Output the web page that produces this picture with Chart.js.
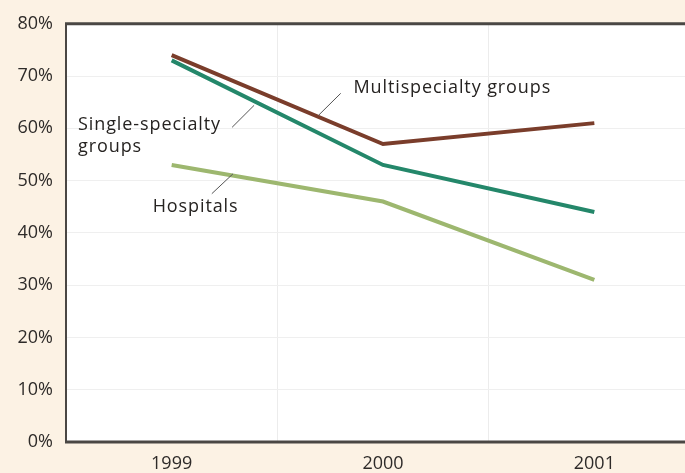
<!DOCTYPE html>
<html><head><meta charset="utf-8">
<script src="https://cdn.jsdelivr.net/npm/chart.js@4"></script>
<style>
html,body{margin:0;padding:0;background:#fcf2e4;overflow:hidden;}
#wrap{width:700px;height:473px;position:relative;}
</style></head>
<body><div id="wrap"><canvas id="c"></canvas></div>
<script>
const years = ['1999','2000','2001'];
const multispecialty = [74, 57, 61];
const singleSpecialty = [73, 53, 44];
const hospitals = [53, 46, 31];
const yTicks = [0,10,20,30,40,50,60,70,80];

const FONT = '"Open Sans", sans-serif';
// annotations in data space: x = category index, y = percent
const notes = [
  {lines:['Multispecialty groups'], x:0.86, y:67.8, from:[0.695,62.5], to:[0.80,66.7]},
  {lines:['Single-specialty','groups'], x:-0.443, y:60.6, from:[0.286,60.2], to:[0.39,64.4]},
  {lines:['Hospitals'], x:-0.09, y:45.0, from:[0.19,47.5], to:[0.29,51.3]}
];

const deco = {
  id:'deco',
  beforeDraw(chart){
    const {ctx, chartArea:a} = chart;
    ctx.save();
    ctx.fillStyle = '#ffffff';
    ctx.fillRect(a.left, a.top, a.right-a.left, a.bottom-a.top);
    ctx.restore();
  },
  afterDraw(chart){
    const {ctx, chartArea:a, scales} = chart;
    const xs = scales.x, ys = scales.y;
    ctx.save();
    ctx.strokeStyle = '#4a4744';
    ctx.lineWidth = 3;
    ctx.beginPath(); ctx.moveTo(a.left-1, a.top); ctx.lineTo(a.right+2, a.top); ctx.stroke();
    ctx.beginPath(); ctx.moveTo(a.left-1, a.bottom); ctx.lineTo(a.right+2, a.bottom); ctx.stroke();
    ctx.lineWidth = 2;
    ctx.beginPath(); ctx.moveTo(a.left, a.top); ctx.lineTo(a.left, a.bottom); ctx.stroke();
    ctx.fillStyle = '#262321';
    ctx.font = '18px ' + FONT;
    try { ctx.letterSpacing = '0.9px'; } catch(e) {}
    ctx.textBaseline = 'middle';
    ctx.textAlign = 'left';
    notes.forEach(n=>{
      const px = xs.getPixelForValue(n.x), py = ys.getPixelForValue(n.y);
      n.lines.forEach((l,i)=>ctx.fillText(l, px, py + i*22));
      ctx.strokeStyle = '#555';
      ctx.lineWidth = 1;
      ctx.beginPath();
      ctx.moveTo(xs.getPixelForValue(n.from[0]), ys.getPixelForValue(n.from[1]));
      ctx.lineTo(xs.getPixelForValue(n.to[0]), ys.getPixelForValue(n.to[1]));
      ctx.stroke();
    });
    ctx.restore();
  }
};

new Chart(document.getElementById('c'), {
  type:'line',
  data:{
    labels: years,
    datasets:[
      {label:'Multispecialty groups', data:multispecialty, borderColor:'#7a3d2b'},
      {label:'Single-specialty groups', data:singleSpecialty, borderColor:'#24876a'},
      {label:'Hospitals', data:hospitals, borderColor:'#9db76f'}
    ]
  },
  options:{
    responsive:true, maintainAspectRatio:false, animation:false,
    layout:{padding:{top:21,left:0,right:0,bottom:0}},
    elements:{line:{borderWidth:4, tension:0, borderCapStyle:'butt'}, point:{radius:0}},
    plugins:{legend:{display:false}, tooltip:{enabled:false}},
    scales:{
      x:{
        offset:true,
        grid:{offset:true, color:'#ececec', drawTicks:false},
        border:{display:false},
        ticks:{color:'#2e2b29', font:{family:FONT, size:18}, padding:11},
        afterFit(s){ s.height = 31; }
      },
      y:{
        min:0, max:80,
        afterBuildTicks(s){ s.ticks = yTicks.map(v=>({value:v})); },
        grid:{color:'#efefef', drawTicks:false},
        border:{display:false},
        ticks:{color:'#2e2b29', font:{family:FONT, size:18}, padding:13, callback:v=>v+'%'},
        afterFit(s){ s.width = 66; }
      }
    }
  },
  plugins:[deco]
});
</script></body></html>
